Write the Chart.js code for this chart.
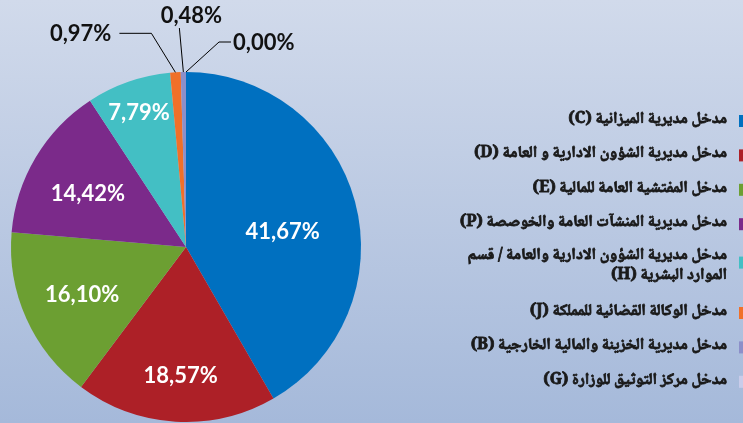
<!DOCTYPE html>
<html>
<head>
<meta charset="utf-8">
<script src="https://cdn.jsdelivr.net/npm/chart.js@4.4.1/dist/chart.umd.min.js"></script>
<style>
  html, body { margin: 0; padding: 0; overflow: hidden; }
  #wrap { width: 743px; height: 423px; }
</style>
</head>
<body>
<div id="wrap"><canvas id="c" width="743" height="423"></canvas></div>
<script>
// ---- data ----
const CATEGORIES = [
  'مدخل مديرية الميزانية (C)',
  'مدخل مديرية الشؤون الادارية و العامة (D)',
  'مدخل المفتشية العامة للمالية (E)',
  'مدخل مديرية المنشآت العامة والخوصصة (P)',
  ['مدخل مديرية الشؤون الادارية والعامة / قسم', 'الموارد البشرية (H)'],
  'مدخل الوكالة القضائية للمملكة (J)',
  'مدخل مديرية الخزينة والمالية الخارجية (B)',
  'مدخل مركز التوثيق للوزارة (G)'
];
const SHARES = [41.67, 18.57, 16.10, 14.42, 7.79, 0.97, 0.48, 0.00];

// ---- styles ----
const COLORS = ['#0070C0', '#AD2027', '#6C9F32', '#7B2A8A', '#43BFC4', '#F07029', '#8C8FC9', '#C9CCEA'];
const INNER = [ // radial fraction, angle shift (deg)
  {r: 0.56, a: 5.6}, {r: 0.73, a: -1}, {r: 0.65, a: 0}, {r: 0.64, a: -2}, {r: 0.815, a: 0}
];

const fmt = v => v.toFixed(2).replace('.', ',') + '%';

const bgPlugin = {
  id: 'bg',
  beforeDraw(chart) {
    const {ctx, width, height} = chart;
    const g = ctx.createLinearGradient(0, 0, 0, height);
    g.addColorStop(0, '#D1DAEB');
    g.addColorStop(1, '#A5B9DA');
    ctx.save();
    ctx.fillStyle = g;
    ctx.fillRect(0, 0, width, height);
    ctx.restore();
  }
};

const labelPlugin = {
  id: 'pieLabels',
  afterDatasetsDraw(chart) {
    const ctx = chart.ctx;
    const meta = chart.getDatasetMeta(0);
    const vals = chart.data.datasets[0].data;
    ctx.save();
    ctx.font = 'bold 22px Lato, "Open Sans", sans-serif';
    ctx.textBaseline = 'middle';
    meta.data.forEach((arc, i) => {
      const p = arc.getProps(['x', 'y', 'startAngle', 'endAngle', 'outerRadius'], true);
      const mid = (p.startAngle + p.endAngle) / 2;
      const txt = fmt(vals[i]);
      if (i < INNER.length) {
        const a = mid + INNER[i].a * Math.PI / 180;
        const r = p.outerRadius * INNER[i].r;
        ctx.fillStyle = '#FFFFFF';
        ctx.textAlign = 'center';
        ctx.fillText(txt, p.x + Math.cos(a) * r, p.y + Math.sin(a) * r + 1);
      } else {
        const ox = p.x + Math.cos(mid) * p.outerRadius;
        const oy = p.y + Math.sin(mid) * p.outerRadius;
        ctx.strokeStyle = '#000000';
        ctx.lineWidth = 1;
        ctx.fillStyle = '#111111';
        ctx.beginPath();
        ctx.moveTo(ox, oy);
        if (i === 5) {
          const ex = ox - 24, ey = oy - 39;
          ctx.lineTo(ex, ey);
          ctx.lineTo(ex - 32, ey);
          ctx.stroke();
          ctx.textAlign = 'right';
          ctx.fillText(txt, ex - 40, ey + 1);
        } else if (i === 6) {
          const ex = ox - 4, ey = oy - 44;
          ctx.lineTo(ex, ey);
          ctx.stroke();
          ctx.textAlign = 'center';
          ctx.fillText(txt, ex + 12, ey - 12);
        } else {
          const ex = ox + 33, ey = oy - 30;
          ctx.lineTo(ex, ey);
          ctx.lineTo(ex + 12, ey);
          ctx.stroke();
          ctx.textAlign = 'left';
          ctx.fillText(txt, ex + 14, ey + 1);
        }
      }
    });
    ctx.restore();
  }
};

const legendPlugin = {
  id: 'rtlLegend',
  afterDraw(chart) {
    const ctx = chart.ctx;
    const labels = chart.data.labels;
    const colors = chart.data.datasets[0].backgroundColor;
    ctx.save();
    ctx.direction = 'rtl';
    ctx.font = 'bold 16px "Noto Naskh Arabic", "Noto Sans Arabic", "Amiri", "DejaVu Sans", sans-serif';
    ctx.textBaseline = 'middle';
    ctx.textAlign = 'right';
    ctx.lineJoin = 'round';
    const right = 727, boxX = 739, box = 12, lineH = 20, step = 34.4;
    let y = 121;
    labels.forEach((lab, i) => {
      const lines = Array.isArray(lab) ? lab : [lab];
      ctx.fillStyle = colors[i];
      ctx.fillRect(boxX, y - box / 2 + (lines.length > 1 ? 4 : 0), box, box);
      ctx.fillStyle = '#1A1A1A';
      ctx.strokeStyle = '#1A1A1A';
      ctx.lineWidth = 0.8;
      lines.forEach((ln, k) => {
        const ty = y + (lines.length > 1 ? -2 : 0) + k * lineH;
        ctx.fillText(ln, right, ty);
        ctx.strokeText(ln, right, ty);
      });
      y += step + (lines.length - 1) * lineH;
    });
    ctx.restore();
  }
};

new Chart(document.getElementById('c'), {
  type: 'pie',
  data: {
    labels: CATEGORIES,
    datasets: [{
      data: SHARES,
      backgroundColor: COLORS,
      borderWidth: 0
    }]
  },
  options: {
    responsive: false,
    animation: false,
    layout: { padding: { left: 11, right: 382, top: 72, bottom: 1 } },
    plugins: {
      legend: { display: false },
      tooltip: { enabled: false },
      title: { display: false }
    }
  },
  plugins: [bgPlugin, labelPlugin, legendPlugin]
});
</script>
</body>
</html>
